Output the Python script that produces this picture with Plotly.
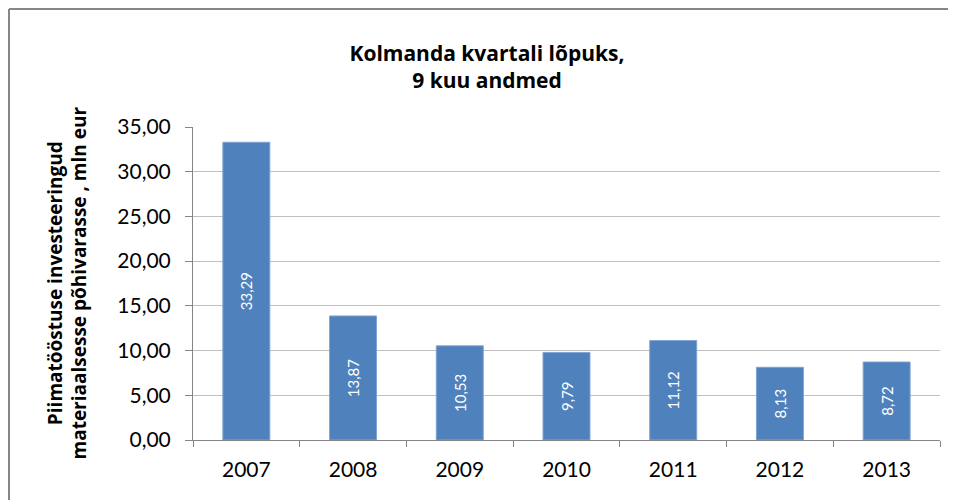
import plotly.graph_objects as go

years = ["2007", "2008", "2009", "2010", "2011", "2012", "2013"]
values = [33.29, 13.87, 10.53, 9.79, 11.12, 8.13, 8.72]
y_ticks = [0, 5, 10, 15, 20, 25, 30, 35]
y_tick_labels = ["0,00", "5,00", "10,00", "15,00", "20,00", "25,00", "30,00", "35,00"]
value_labels = [f"{v:.2f}".replace(".", ",") for v in values]

FONT = "Lato"
BOLD = "Open Sans"
W, H = 956, 500
# the page body adds an 8px offset, so positions are relative to the paper
L, R, T, B = 185, 24, 119, 68
pw, ph = W - L - R, H - T - B

fig = go.Figure(go.Bar(
    x=years, y=values,
    marker=dict(color="#4F81BD", line=dict(color="#7FA3D2", width=1)),
    text=value_labels, textposition="inside", insidetextanchor="middle",
    textangle=-90, textfont=dict(family=FONT, size=15, color="white"),
))

fig.update_layout(
    width=W, height=H,
    margin=dict(l=L, r=R, t=T, b=B),
    paper_bgcolor="white", plot_bgcolor="white",
    bargap=0.56, showlegend=False,
    font=dict(family=FONT, color="black"),
    title=dict(text="<b>Kolmanda kvartali lõpuks,<br>9 kuu andmed</b>",
               x=479 / W, xanchor="center", y=1 - 53 / H, yanchor="middle",
               yref="container", font=dict(family=BOLD, size=21, color="black")),
)

fig.update_xaxes(
    showgrid=False, showline=True, linecolor="#868686", linewidth=1,
    ticks="outside", ticklen=6, tickcolor="#868686", tickson="boundaries",
    ticklabelstandoff=11,
    tickfont=dict(family=FONT, size=21, color="black"),
)
fig.update_yaxes(
    range=[0, 35], tickvals=y_ticks, ticktext=y_tick_labels,
    showgrid=True, gridcolor="#BFBFBF", gridwidth=1,
    showline=True, linecolor="#868686", linewidth=1,
    ticks="outside", ticklen=7, tickcolor="#868686",
    ticklabelstandoff=10,
    tickfont=dict(family=FONT, size=21, color="black"), zeroline=False,
)

# y-axis title, two lines
fig.add_annotation(
    text="<b>Piimatööstuse investeeringud<br>materiaalsesse põhivarasse , mln eur</b>",
    xref="paper", yref="paper", x=(59 - L) / pw, y=0.5,
    xanchor="center", yanchor="middle", textangle=-90, showarrow=False,
    font=dict(family=BOLD, size=19, color="black"),
)

# chart border: only the top and left edges are visible
top = 1 + (T - 1) / ph
left = (1 - L) / pw
fig.add_shape(type="line", xref="paper", yref="paper",
              x0=left, x1=1 + R / pw, y0=top, y1=top,
              line=dict(color="#868686", width=2))
fig.add_shape(type="line", xref="paper", yref="paper",
              x0=left, x1=left, y0=top, y1=-B / ph,
              line=dict(color="#868686", width=2))

fig.write_html("out.html", config=dict(displayModeBar=False))
